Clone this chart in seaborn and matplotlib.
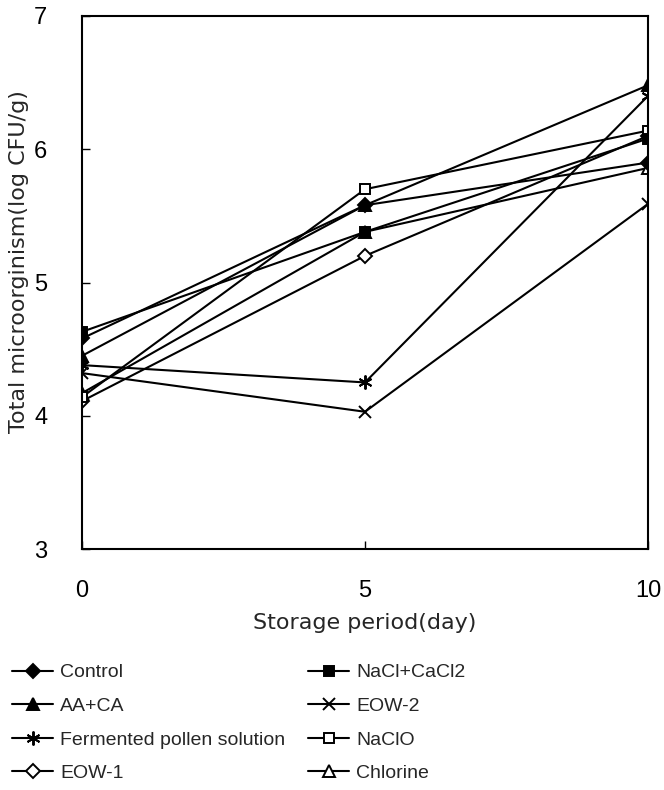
import pandas as pd
import seaborn as sns
import matplotlib.pyplot as plt

days = [0, 5, 10]
control = [4.58, 5.58, 5.90]
aa_ca = [4.45, 5.58, 6.48]
fermented = [4.38, 4.25, 6.40]
eow1 = [4.11, 5.20, 6.10]
nacl_cacl2 = [4.63, 5.38, 6.08]
eow2 = [4.32, 4.03, 5.59]
naclo = [4.14, 5.70, 6.14]
chlorine = [4.17, 5.38, 5.86]

# legend order (column 1 then column 2)
legend_order = ['Control', 'AA+CA', 'Fermented pollen solution', 'EOW-1',
                'NaCl+CaCl2', 'EOW-2', 'NaClO', 'Chlorine']

# drawing order (last one ends up on top)
series = [
    ('Chlorine', chlorine, '^', 'white'),
    ('EOW-1', eow1, 'D', 'white'),
    ('NaClO', naclo, 's', 'white'),
    ('EOW-2', eow2, 'x', 'black'),
    ('Fermented pollen solution', fermented, (6, 2, 0), 'black'),
    ('AA+CA', aa_ca, '^', 'black'),
    ('Control', control, 'D', 'black'),
    ('NaCl+CaCl2', nacl_cacl2, 's', 'black'),
]

rows = []
for name, vals, _, _ in series:
    for d, v in zip(days, vals):
        rows.append({'treatment': name, 'day': d, 'value': v})
df = pd.DataFrame(rows)

sns.set_style('ticks')
plt.rcParams['font.family'] = ['Liberation Sans', 'DejaVu Sans']

fig = plt.figure(figsize=(6.64, 7.90), dpi=100)
ax = fig.add_axes([82 / 664, 1 - 549 / 790, 566 / 664, 533 / 790])

for name, vals, mk, fc in series:
    sub = df[df['treatment'] == name]
    ms = {'D': 7.5, 's': 7, '^': 8, 'x': 8}.get(mk, 10)
    sns.lineplot(data=sub, x='day', y='value', ax=ax, color='black',
                 marker=mk, markersize=ms, markerfacecolor=fc,
                 markeredgecolor='black', markeredgewidth=1.4,
                 linewidth=1.5, label=name)

ax.set_xlim(0, 10)
ax.set_ylim(3, 7)
ax.set_xticks([0, 5, 10])
ax.set_yticks([3, 4, 5, 6, 7])
ax.tick_params(axis='both', direction='in', length=6, width=1,
               labelsize=17, colors='black')
ax.tick_params(axis='y', pad=25)
ax.tick_params(axis='x', pad=22)
for s in ax.spines.values():
    s.set_linewidth(1.5)
    s.set_color('black')

ax.set_xlabel('Storage period(day)', fontsize=16, family='DejaVu Sans')
ax.set_ylabel('Total microorginism(log CFU/g)', fontsize=16, family='DejaVu Sans')
ax.xaxis.set_label_coords(0.5, -0.12)
ax.yaxis.set_label_coords(-0.094, 0.54)

handles, labels = ax.get_legend_handles_labels()
ax.get_legend().remove()
lookup = dict(zip(labels, handles))
fig.legend([lookup[n] for n in legend_order], legend_order, ncol=2,
           loc='upper left', bbox_to_anchor=(0.004, 0.172), frameon=False,
           fontsize=14, borderpad=0, handlelength=2.1, handletextpad=0.35,
           columnspacing=1.2, labelspacing=0.82)

fig.savefig('out.png', dpi=100)
